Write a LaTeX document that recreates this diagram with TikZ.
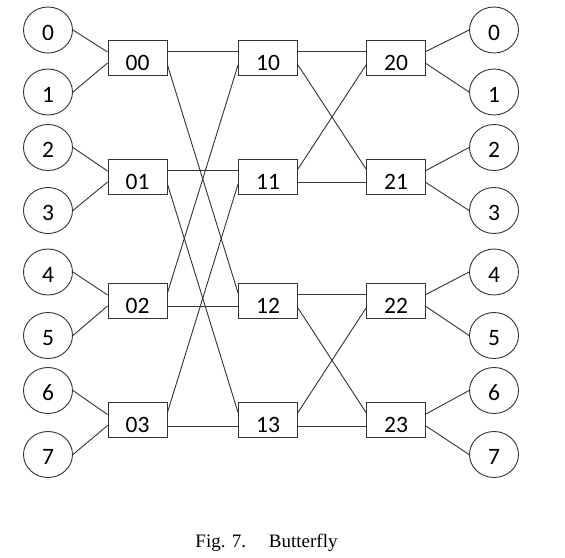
\documentclass[tikz,border=0pt]{standalone}
\usepackage{fontspec}
\setmainfont{Liberation Serif}
\newfontfamily\diagfont{Carlito}
\usetikzlibrary{shapes.geometric}
\begin{document}
\begin{tikzpicture}[x=1pt,y=-1pt,
  boxnode/.style={draw=black!80, line width=0.9pt, rectangle, minimum width=59pt,
    minimum height=35pt, inner sep=0pt, font=\diagfont\fontsize{23.5}{23.5}\selectfont,
    text height=25pt, text depth=0pt},
  portnode/.style={draw=black!80, line width=0.9pt, ellipse, minimum width=49pt,
    minimum height=46pt, inner sep=0pt, font=\diagfont\fontsize{23.5}{23.5}\selectfont,
    text height=20pt, text depth=0pt},
  link/.style={draw=black!80, line width=0.9pt},
  captext/.style={anchor=base, font=\fontsize{19}{19}\selectfont}
]
\useasboundingbox[fill=white] (0,0) rectangle (565,557);

% ports
\foreach \k/\y in {0/30,1/92,2/147.5,3/210.5,4/272,5/335.5,6/390.5,7/454.5}{
  \node[portnode] (L\k) at (48,\y) {\k};
  \node[portnode] (R\k) at (494,\y) {\k};
}

% switches
\foreach \j/\y in {0/57.5,1/176.5,2/300.5,3/420}{
  \node[boxnode] (a\j) at (137.5,\y) {0\j};
  \node[boxnode] (b\j) at (268,\y) {1\j};
  \node[boxnode] (c\j) at (396,\y) {2\j};
}

% input ports to first column
\foreach \j/\p/\q in {0/0/1,1/2/3,2/4/5,3/6/7}{
  \draw[link] (L\p.east) -- ([yshift=5.5pt]a\j.west);
  \draw[link] (L\q.east) -- ([yshift=-5.5pt]a\j.west);
  \draw[link] (R\p.west) -- ([yshift=6pt]c\j.east);
  \draw[link] (R\q.west) -- ([yshift=-6pt]c\j.east);
}

% stage 1 (distance 2)
\draw[link] ([yshift=6pt]a0.east) -- ([yshift=6pt]b0.west);
\draw[link] ([yshift=-7.5pt]a0.east) -- ([yshift=7.5pt]b2.west);
\draw[link] ([yshift=6pt]a1.east) -- ([yshift=6pt]b1.west);
\draw[link] ([yshift=-7.5pt]a1.east) -- ([yshift=7.5pt]b3.west);
\draw[link] ([yshift=7.5pt]a2.east) -- ([yshift=-7.5pt]b0.west);
\draw[link] ([yshift=-6pt]a2.east) -- ([yshift=-6pt]b2.west);
\draw[link] ([yshift=7.5pt]a3.east) -- ([yshift=-7.5pt]b1.west);
\draw[link] ([yshift=-6pt]a3.east) -- ([yshift=-6pt]b3.west);

% stage 2 (distance 1)
\draw[link] ([yshift=6pt]b0.east) -- ([yshift=6pt]c0.west);
\draw[link] ([yshift=-7.5pt]b0.east) -- ([yshift=7.5pt]c1.west);
\draw[link] ([yshift=7.5pt]b1.east) -- ([yshift=-7.5pt]c0.west);
\draw[link] ([yshift=-6pt]b1.east) -- ([yshift=-6pt]c1.west);
\draw[link] ([yshift=6pt]b2.east) -- ([yshift=6pt]c2.west);
\draw[link] ([yshift=-7.5pt]b2.east) -- ([yshift=7.5pt]c3.west);
\draw[link] ([yshift=7.5pt]b3.east) -- ([yshift=-7.5pt]c2.west);
\draw[link] ([yshift=-6pt]b3.east) -- ([yshift=-6pt]c3.west);

\node[captext] (cap) at (266.5,547) {Fig. 7.\hspace{1.2em}Butterfly};
\end{tikzpicture}
\end{document}
